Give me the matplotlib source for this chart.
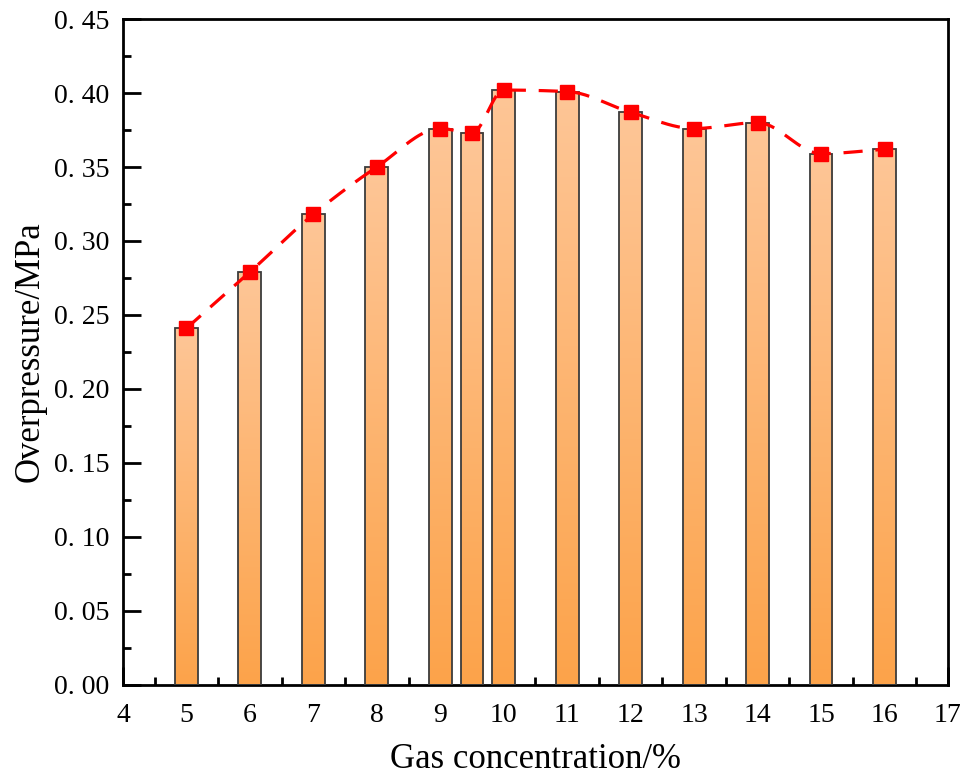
import numpy as np
import matplotlib.pyplot as plt
from matplotlib.colors import LinearSegmentedColormap
from matplotlib.ticker import MultipleLocator, FuncFormatter

# gas concentration (%) and peak overpressure (MPa)
concentration = [5, 6, 7, 8, 9, 9.5, 10, 11, 12, 13, 14, 15, 16]
overpressure = [0.241, 0.279, 0.318, 0.350, 0.376, 0.373, 0.402,
                0.401, 0.387, 0.376, 0.380, 0.359, 0.362]

x_ticks = list(range(4, 18))
y_ticks = [0.00, 0.05, 0.10, 0.15, 0.20, 0.25, 0.30, 0.35, 0.40, 0.45]


def smooth_line(x, y, n=400):
    # shape-preserving cubic (Fritsch-Carlson) through the points, for the trend line
    x = np.asarray(x, float)
    y = np.asarray(y, float)
    h = np.diff(x)
    delta = np.diff(y) / h
    m = np.zeros_like(y)
    for i in range(1, len(x) - 1):
        if delta[i - 1] * delta[i] > 0:
            w1 = 2 * h[i] + h[i - 1]
            w2 = h[i] + 2 * h[i - 1]
            m[i] = (w1 + w2) / (w1 / delta[i - 1] + w2 / delta[i])
    m[0] = delta[0]
    m[-1] = delta[-1]
    xs = np.linspace(x[0], x[-1], n)
    idx = np.clip(np.searchsorted(x, xs) - 1, 0, len(x) - 2)
    t = (xs - x[idx]) / h[idx]
    h00 = 2 * t ** 3 - 3 * t ** 2 + 1
    h10 = t ** 3 - 2 * t ** 2 + t
    h01 = -2 * t ** 3 + 3 * t ** 2
    h11 = t ** 3 - t ** 2
    ys = h00 * y[idx] + h10 * h[idx] * m[idx] + h01 * y[idx + 1] + h11 * h[idx] * m[idx + 1]
    return xs, ys


plt.rcParams['font.family'] = ['Liberation Serif', 'DejaVu Serif']

fig = plt.figure(figsize=(9.79, 7.79), dpi=100)
ax = fig.add_axes([0.1256, 0.1207, 0.8427, 0.8549])

bar_w = 0.36
cmap = LinearSegmentedColormap.from_list('peach', ['#fca34a', '#fec697'])
grad = np.linspace(0, 1, 256).reshape(-1, 1)

# bars with a vertical orange gradient
for xc, val in zip(concentration, overpressure):
    ax.imshow(grad, cmap=cmap, origin='lower', aspect='auto',
              extent=[xc - bar_w / 2, xc + bar_w / 2, 0, val], zorder=2)
    ax.bar(xc, val, width=bar_w, facecolor='none', edgecolor='#3c3c3c',
           linewidth=1.3, zorder=3)

xs, ys = smooth_line(concentration, overpressure)
ax.plot(xs, ys, color='#ff0000', linewidth=2.3, dashes=(6, 4), zorder=4)
ax.plot(concentration, overpressure, linestyle='none', marker='s',
        markersize=9.5, color='#ff0000', zorder=5)

ax.set_xlim(4, 17)
ax.set_ylim(0, 0.45)
ax.set_xticks(x_ticks)
ax.set_yticks(y_ticks)
ax.xaxis.set_minor_locator(MultipleLocator(0.5))
ax.yaxis.set_minor_locator(MultipleLocator(0.025))
ax.yaxis.set_major_formatter(FuncFormatter(lambda v, p: f'{v:.2f}'.replace('.', '. ')))

ax.tick_params(which='both', direction='in', width=2, top=False, right=False)
ax.tick_params(which='major', length=13, labelsize=20)
ax.tick_params(axis='y', which='major', pad=10)
ax.tick_params(axis='x', which='major', pad=13)
ax.tick_params(which='minor', length=6)
for s in ax.spines.values():
    s.set_linewidth(2)

ax.set_xlabel('Gas concentration/%', fontsize=25, labelpad=11)
ax.set_ylabel('Overpressure/MPa', fontsize=25, labelpad=5)

fig.savefig('out.png', dpi=100)
